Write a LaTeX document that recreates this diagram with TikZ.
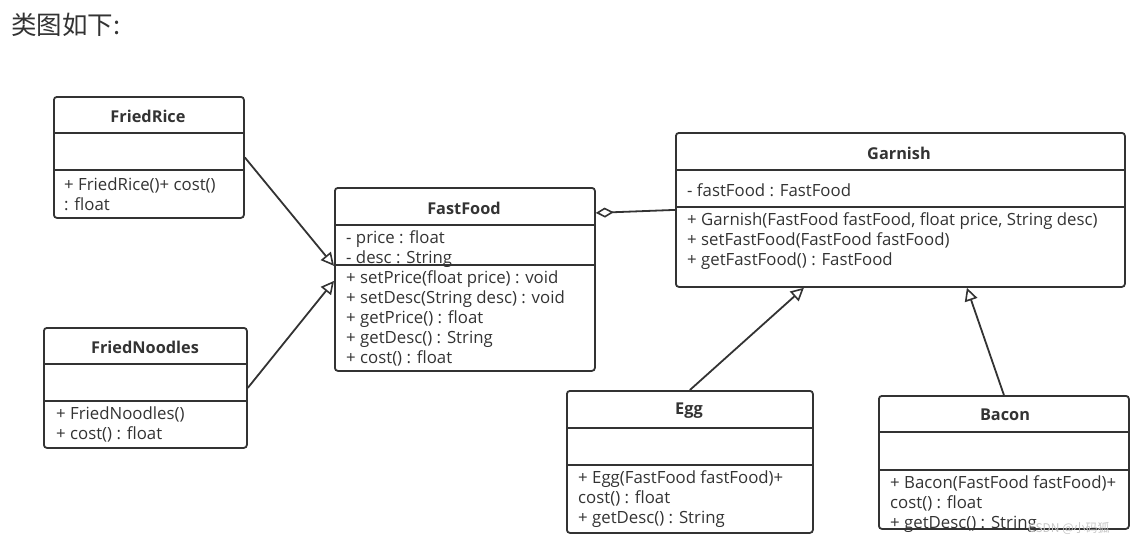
\documentclass[tikz,border=0pt]{standalone}
\usepackage{fontspec}
\setmainfont{Open Sans}
\newfontfamily\cjk{Noto Sans CJK SC}
\usetikzlibrary{arrows.meta}

\definecolor{umlline}{HTML}{333333}
\definecolor{umltext}{HTML}{333333}

\tikzset{
  classbox/.style={draw=umlline, line width=1.8pt, rounded corners=3pt,
    anchor=north west, inner sep=0pt},
  divider/.style={draw=umlline, line width=1.8pt},
  classname/.style={font=\bfseries\fontsize{16.3}{20}\selectfont, text=umltext},
  members/.style={anchor=north west, inner sep=0pt, align=left,
    font=\fontsize{16.8}{20}\selectfont, text=umltext},
  extends/.style={draw=umlline, line width=1.8pt,
    -{Triangle[open, length=13pt, width=13pt, line width=1.6pt]}},
  aggregates/.style={draw=umlline, line width=1.8pt,
    {Diamond[open, length=18pt, width=10pt, line width=1.6pt]}-},
}

\begin{document}
\begin{tikzpicture}[x=1pt, y=-1pt]
  \useasboundingbox (0,0) rectangle (1140,544);

  % Title
  \node[anchor=west, inner sep=0pt, text=umltext, font=\cjk\fontsize{25.5}{30}\selectfont] (heading) at (11,25) {类图如下:};

  % Define nodes
  \node[classbox, minimum width=190pt, minimum height=121pt] (rice) at (53,96) {};
  \node[classname] (ricet) at (148,116) {FriedRice};
  \node[members] (ricem) at (64,176) {\strut+ FriedRice()+ cost()\\: float};

  \node[classbox, minimum width=203pt, minimum height=120pt] (noodles) at (43,327) {};
  \node[classname] (noodlest) at (145,347) {FriedNoodles};
  \node[members] (noodlesm) at (56,405) {\strut+ FriedNoodles()\\+ cost() : float};

  \node[classbox, minimum width=260pt, minimum height=183pt] (fast) at (334,187) {};
  \node[classname] (fastt) at (464,208) {FastFood};
  \node[members] (fasta) at (346,229) {\strut- price : float\\- desc : String};
  \node[members] (fastm) at (346,269) {\strut+ setPrice(float price) : void\\+ setDesc(String desc) : void\\+ getPrice() : float\\+ getDesc() : String\\+ cost() : float};

  \node[classbox, minimum width=449pt, minimum height=154pt] (garnish) at (675,132) {};
  \node[classname] (garnisht) at (899,153) {Garnish};
  \node[members] (garnisha) at (687,182) {\strut- fastFood : FastFood};
  \node[members] (garnishm) at (687,211) {\strut+ Garnish(FastFood fastFood, float price, String desc)\\+ setFastFood(FastFood fastFood)\\+ getFastFood() : FastFood};

  \node[classbox, minimum width=246pt, minimum height=142pt] (egg) at (566,390) {};
  \node[classname] (eggt) at (689,411) {Egg};
  \node[members] (eggm) at (578,469) {\strut+ Egg(FastFood fastFood)+\\cost() : float\\+ getDesc() : String};

  \node[classbox, minimum width=250pt, minimum height=133pt] (bacon) at (878,395) {};
  \node[classname] (bacont) at (1005,415) {Bacon};
  \node[members] (baconm) at (890,474) {\strut+ Bacon(FastFood fastFood)+\\cost() : float\\+ getDesc() : String};

  % Compartments
  \draw[divider] (rice.west |- 0,133) -- (rice.east |- 0,133);
  \draw[divider] (rice.west |- 0,170) -- (rice.east |- 0,170);
  \draw[divider] (noodles.west |- 0,364) -- (noodles.east |- 0,364);
  \draw[divider] (noodles.west |- 0,401) -- (noodles.east |- 0,401);
  \draw[divider] (fast.west |- 0,225) -- (fast.east |- 0,225);
  \draw[divider] (fast.west |- 0,265) -- (fast.east |- 0,265);
  \draw[divider] (garnish.west |- 0,170) -- (garnish.east |- 0,170);
  \draw[divider] (garnish.west |- 0,207) -- (garnish.east |- 0,207);
  \draw[divider] (egg.west |- 0,428) -- (egg.east |- 0,428);
  \draw[divider] (egg.west |- 0,465) -- (egg.east |- 0,465);
  \draw[divider] (bacon.west |- 0,432) -- (bacon.east |- 0,432);
  \draw[divider] (bacon.west |- 0,470) -- (bacon.east |- 0,470);

  % Connect the nodes
  \draw[extends] (rice.east) -- ([yshift=13.5pt]fast.west);
  \draw[extends] (noodles.east) -- ([yshift=-1.5pt]fast.west);
  \draw[aggregates] ([yshift=66.5pt]fast.east) -- (garnish.west);
  \draw[extends] (egg.north) -- ([xshift=-96.5pt]garnish.south);
  \draw[extends] (bacon.north) -- ([xshift=66.5pt]garnish.south);

  % Watermark
  \node[anchor=west, inner sep=0pt, text=gray!45, font=\cjk\fontsize{12}{14}\selectfont] (mark) at (1028,528) {CSDN @小码狐};

\end{tikzpicture}
\end{document}
